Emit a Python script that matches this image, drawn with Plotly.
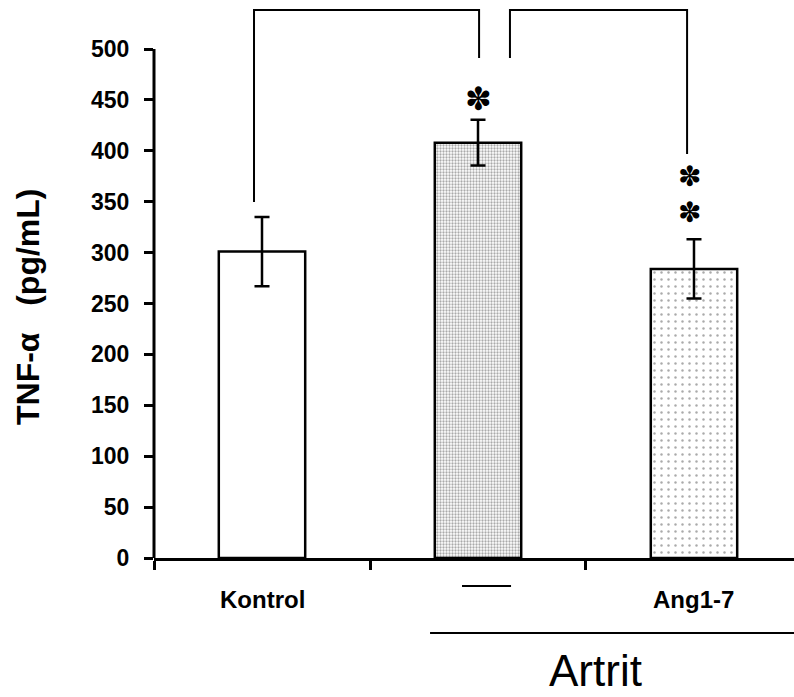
import plotly.graph_objects as go

# ---- data ----
categories = ["Kontrol", "", "Ang1-7"]
means = [301, 408, 284]
errors = [34, 22.5, 29]
tick_values = [0, 50, 100, 150, 200, 250, 300, 350, 400, 450, 500]
group_label = "Artrit"
y_title = "TNF-α   (pg/mL)"
star_single = "✽"
star_double = "✽<br>✽"

x_pos = [0, 1, 2]

# ---- geometry helpers ----
Y_TOP = 545.2
X_MIN, X_MAX = -0.5, 2.463
PLOT_H = 555  # px
def py(px):  # pixel y -> paper y
    return (558 - px) / PLOT_H

fig = go.Figure()

fig.add_trace(go.Bar(
    x=x_pos, y=means, width=0.4,
    marker=dict(
        color="white",
        line=dict(color="black", width=2.5),
        pattern=dict(shape=["", ".", "."], size=[3, 3, 7], solidity=[0.5, 0.45, 0.1],
                     fgcolor="#555555", bgcolor="white", fillmode="overlay"),
    ),
    error_y=dict(type="data", array=errors, visible=True, color="black", thickness=2.5, width=7.5),
    showlegend=False, hoverinfo="skip",
))

shapes = []
# y axis line (0..500)
shapes.append(dict(type="line", xref="paper", yref="y", x0=0, x1=0, y0=0, y1=500,
                   line=dict(color="black", width=3)))
# significance brackets
br_top = 538.3
shapes.append(dict(type="path", xref="x", yref="y",
                   path=f"M -0.037 349.7 L -0.037 {br_top} L 1.005 {br_top} L 1.005 491.2",
                   line=dict(color="black", width=2)))
shapes.append(dict(type="path", xref="x", yref="y",
                   path=f"M 1.148 491.2 L 1.148 {br_top} L 1.968 {br_top} L 1.968 396.9",
                   line=dict(color="black", width=2)))
# dash under middle bar
shapes.append(dict(type="line", xref="x", yref="paper", x0=0.926, x1=1.153, y0=py(586), y1=py(586),
                   line=dict(color="black", width=2)))
# group line
shapes.append(dict(type="line", xref="x", yref="paper", x0=0.778, x1=X_MAX, y0=py(633), y1=py(633),
                   line=dict(color="black", width=2)))

annotations = []
for xv, lab in zip(x_pos, categories):
    if lab:
        annotations.append(dict(x=xv, y=py(599), xref="x", yref="paper", text=f"<b>{lab}</b>",
                                showarrow=False, font=dict(family="Liberation Sans, Arial", size=24, color="black"),
                                xanchor="center", yanchor="middle"))
annotations.append(dict(x=1.546, y=py(670), xref="x", yref="paper", text=group_label, showarrow=False,
                        font=dict(family="Liberation Sans, Arial", size=44, color="black"),
                        xanchor="center", yanchor="middle"))
annotations.append(dict(x=(28 - 154) / 640, y=py(307), xref="paper", yref="paper", text=f"<b>{y_title}</b>",
                        textangle=-90, showarrow=False,
                        font=dict(family="Liberation Sans, Arial", size=32, color="black"),
                        xanchor="center", yanchor="middle"))
# stars
annotations.append(dict(x=1.0, y=451, xref="x", yref="y", text=star_single, showarrow=False,
                        font=dict(family="DejaVu Sans", size=32, color="black"),
                        xanchor="center", yanchor="middle"))
annotations.append(dict(x=1.98, y=357, xref="x", yref="y", text=star_double, showarrow=False,
                        font=dict(family="DejaVu Sans", size=28, color="black"),
                        xanchor="center", yanchor="middle"))

fig.update_layout(
    width=794, height=697,
    margin=dict(l=154, r=0, t=3, b=139),
    paper_bgcolor="white", plot_bgcolor="white",
    shapes=shapes, annotations=annotations,
    xaxis=dict(range=[X_MIN, X_MAX], showgrid=False, zeroline=False, showline=True,
               linecolor="black", linewidth=3,
               tickmode="array", tickvals=[-0.5, 0.5, 1.5], ticktext=["", "", ""],
               ticks="outside", ticklen=9, tickwidth=3, tickcolor="black", showticklabels=False),
    yaxis=dict(range=[0, Y_TOP], showgrid=False, zeroline=False, showline=False,
               tickmode="array", tickvals=tick_values, ticktext=[str(v) for v in tick_values],
               ticks="outside", ticklen=9, tickwidth=3, tickcolor="black",
               tickfont=dict(family="Liberation Sans, Arial", size=23, color="black", weight="bold"),
               ticklabelstandoff=10),
)

fig.write_html("out.html")
